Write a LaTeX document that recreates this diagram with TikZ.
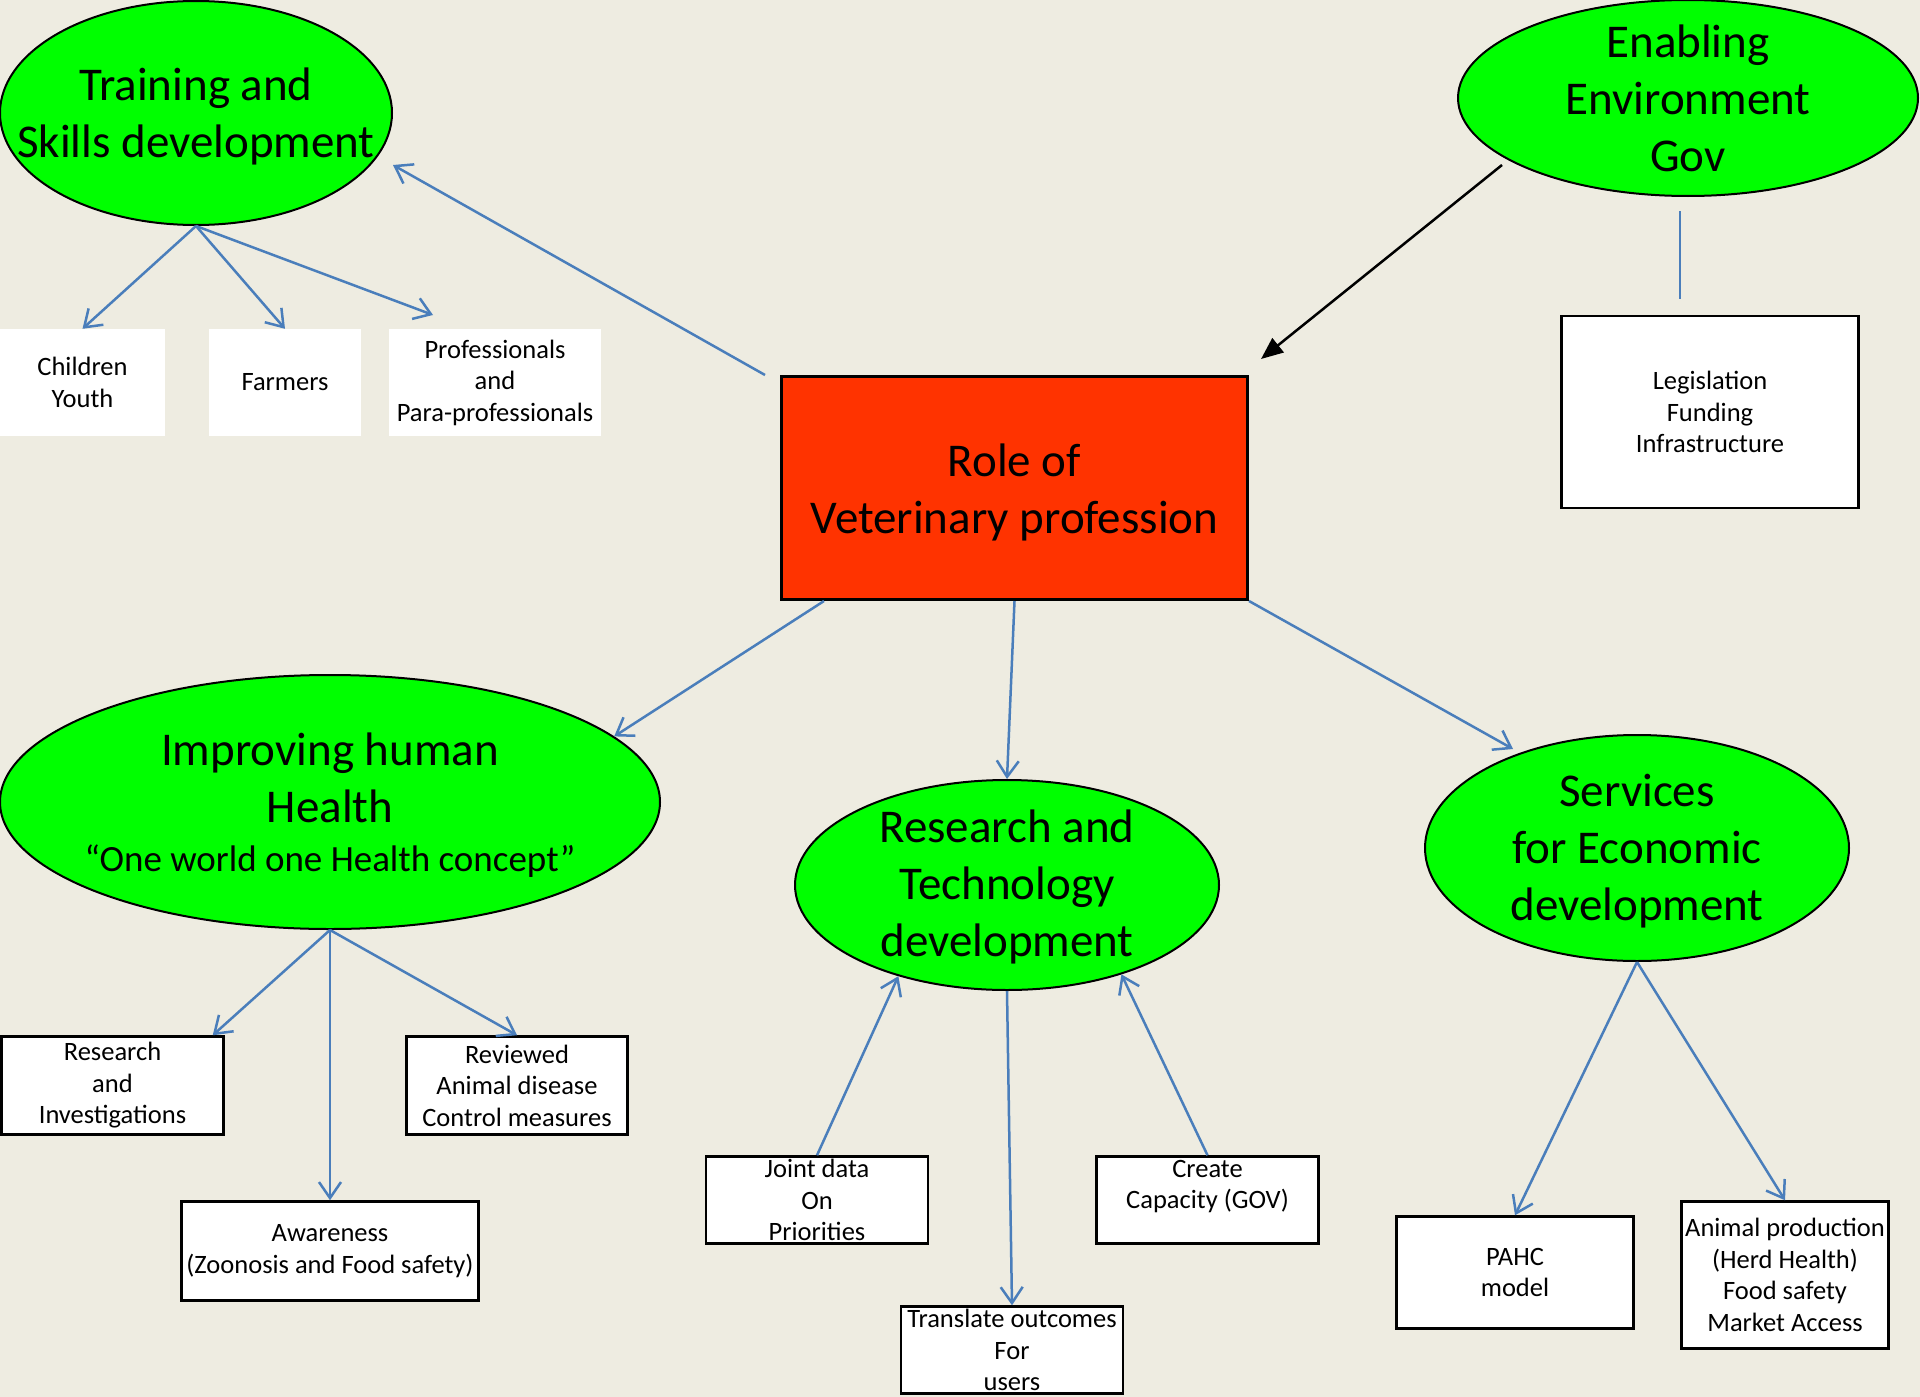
\documentclass[tikz,border=0pt]{standalone}
\usepackage{fontspec}
\setmainfont{Carlito}
\usetikzlibrary{arrows.meta,shapes.geometric,calc}
\definecolor{bg}{HTML}{EEECE1}
\definecolor{vgreen}{HTML}{00FF00}
\definecolor{vred}{HTML}{FF3300}
\definecolor{vblue}{HTML}{4A7EBB}
\newcommand\vbig{\fontsize{47}{57}\selectfont}
\newcommand\vsmall{\fontsize{26.5}{31.5}\selectfont}
% zero-size centred text block (keeps shape sizes as given)
\newcommand\zc[2][0pt]{\raisebox{#1}{\makebox[0pt]{\vbox to 0pt{\vss\hbox{\begin{tabular}{@{}c@{}}#2\end{tabular}}\vss}}}}
\begin{document}
\begin{tikzpicture}[x=1pt,y=-1pt,
  oval/.style={ellipse, draw=black, line width=2pt, fill=vgreen, inner sep=0pt, font=\vbig},
  plainbox/.style={rectangle, fill=white, inner sep=0pt, align=center, font=\vsmall},
  framebox/.style={plainbox, draw=black, line width=2.5pt},
  conn/.style={draw=vblue, line width=2.5pt, -{Straight Barb[length=16pt,width=22pt]}},
  plainline/.style={draw=vblue, line width=2.5pt},
  blackarrow/.style={draw=black, line width=2.5pt, -{Triangle[length=22pt,width=18pt]}}
]
\fill[bg] (0,0) rectangle (1920,1397);
\useasboundingbox (0,0) rectangle (1920,1397);

% top left
\node[oval, minimum width=392pt, minimum height=224pt] (train) at (196,113) {\zc[-9pt]{Training and\\Skills development}};
\node[plainbox, minimum width=165pt, minimum height=107pt] (children) at (82.5,382.5) {Children\\Youth};
\node[plainbox, minimum width=152pt, minimum height=107pt] (farmers) at (285,382.5) {Farmers};
\node[plainbox, minimum width=212pt, minimum height=107pt] (prof) at (495,382.5) {Professionals\\and\\Para-professionals};

% top right
\node[oval, minimum width=460pt, minimum height=196pt] (enab) at (1688,98) {\zc[-10.5pt]{Enabling\\Environment\\Gov}};
\node[framebox, minimum width=297pt, minimum height=192pt] (legis) at (1710,412) {Legislation\\Funding\\Infrastructure};

% centre
\node[rectangle, draw=black, line width=3pt, fill=vred, inner sep=0pt, font=\vbig,
      minimum width=466pt, minimum height=223pt] (role) at (1014.5,488) {\zc[-11pt]{Role of\\Veterinary profession}};

% improving human health
\node[oval, minimum width=660pt, minimum height=254pt] (improv) at (330,802)
  {\zc[-11pt]{Improving human\\Health\\[-8pt]{\fontsize{37}{47}\selectfont “One world one Health concept”}}};
\node[framebox, minimum width=222pt, minimum height=98pt] (resinv) at (112.5,1085.5) {Research\\and\\Investigations};
\node[framebox, minimum width=221pt, minimum height=98pt] (reviewed) at (517,1085.5) {Reviewed\\Animal disease\\Control measures};
\node[framebox, minimum width=297pt, minimum height=99pt] (aware) at (330,1251) {Awareness\\(Zoonosis and Food safety)};

% research and technology
\node[oval, minimum width=424pt, minimum height=210pt] (restech) at (1007,885) {\zc[-6.5pt]{Research and\\Technology\\development}};
\node[framebox, minimum width=222pt, minimum height=87pt] (joint) at (817,1200) {Joint data\\On\\Priorities};
\node[framebox, minimum width=222pt, minimum height=87pt] (translate) at (1012,1350) {Translate outcomes\\For\\users};
\node[framebox, minimum width=222pt, minimum height=87pt] (create) at (1207.5,1200) {Create\\Capacity (GOV)\\\mbox{}};

% services
\node[oval, minimum width=424pt, minimum height=226pt] (serv) at (1637,848) {\zc[-7.5pt]{Services\\for Economic\\development}};
\node[framebox, minimum width=237pt, minimum height=112pt] (pahc) at (1515,1272.5) {PAHC\\model};
\node[framebox, minimum width=207pt, minimum height=147pt] (animal) at (1785,1275) {Animal production\\(Herd Health)\\Food safety\\Market Access};

% free ends
\coordinate (proftip) at (433,315);
\coordinate (enabfoot) at (1502,165);
\coordinate (servtip) at (1513,749);

% connectors
\draw[conn] (train.south) -- (children.north);
\draw[conn] (train.south) -- (farmers.north);
\draw[conn] (train.south) -- (proftip);
\draw[conn] ([xshift=-15pt]role.north west) -- ([yshift=-52pt]train.east);
\draw[blackarrow] (enabfoot) -- ([xshift=12pt,yshift=16pt]role.north east);
\draw[plainline] ([xshift=-8pt,yshift=-14pt]enab.south) -- ([xshift=-30pt,yshift=16pt]legis.north);
\draw[conn] ([xshift=44pt]role.south west) -- (improv.13.6);
\draw[conn] (role.south) -- (restech.north);
\draw[conn] (role.south east) -- (servtip);
\draw[conn] (improv.south) -- ([xshift=-12pt]resinv.north east);
\draw[conn] (improv.south) -- (aware.north);
\draw[conn] (improv.south) -- (reviewed.north);
\draw[conn] (joint.north) -- (restech.220.4);
\draw[conn] (restech.south) -- (translate.north);
\draw[conn] (create.north) -- (restech.322.4);
\draw[conn] (serv.south) -- (pahc.north);
\draw[conn] (serv.south) -- (animal.north);
\end{tikzpicture}
\end{document}
